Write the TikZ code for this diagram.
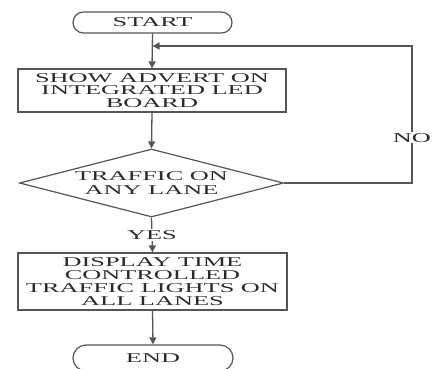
\documentclass[tikz,border=0pt]{standalone}
\usepackage{fontspec}
\setmainfont{Liberation Serif}[FakeStretch=1.95]
\usetikzlibrary{shapes.geometric,shapes.misc,arrows.meta}
\definecolor{ln}{HTML}{555555}
\definecolor{tx}{HTML}{2A2A2A}
\begin{document}
\begin{tikzpicture}[x=1pt,y=-1pt,
  every node/.style={text=tx,font=\fontsize{13.5}{12.9}\selectfont,align=center},
  term/.style={draw=ln,line width=1.2pt,rounded rectangle,inner sep=0pt},
  proc/.style={draw=ln,line width=1.2pt,rectangle,inner sep=0pt},
  dec/.style={draw=ln,line width=1.2pt,diamond,inner sep=0pt},
  lab/.style={fill=white,inner sep=1pt},
  conn/.style={draw=ln,line width=1.3pt},
  arr/.style={conn,-{Triangle[length=7pt,width=7pt]}}]
\useasboundingbox (0,0) rectangle (432,368);
\node[term,minimum width=159pt,minimum height=21pt] (start) at (152.5,22.5) {START};
\node[proc,minimum width=268pt,minimum height=43pt] (b1) at (152,90.5) {SHOW ADVERT ON\\INTEGRATED LED\\BOARD};
\node[dec,minimum width=264pt,minimum height=68pt,label={[font=\fontsize{13.5}{14.5}\selectfont,align=center,text=tx]center:TRAFFIC ON\\ANY LANE}] (d) at (151.5,183) {};
\node[proc,minimum width=269pt,minimum height=57pt] (b2) at (152.5,281.5) {DISPLAY TIME\\CONTROLLED\\TRAFFIC LIGHTS ON\\ALL LANES};
\node[term,minimum width=160pt,minimum height=26pt] (end) at (153,358) {END};
\coordinate (c1) at (412,183);
\coordinate (c2) at (412,46);
\coordinate (j) at (152.5,46);
\draw[arr] (start.south) -- (b1.north);
\draw[arr] (b1.south) -- (d.north);
\draw[arr] (d.south) -- node[lab,pos=0.5] (yes) {YES} (b2.north);
\draw[arr] (b2.south) -- (end.north);
\draw[arr] (d.east) -- (c1) -- node[lab,pos=0.33] (no) {NO} (c2) -- (j);
\end{tikzpicture}
\end{document}
